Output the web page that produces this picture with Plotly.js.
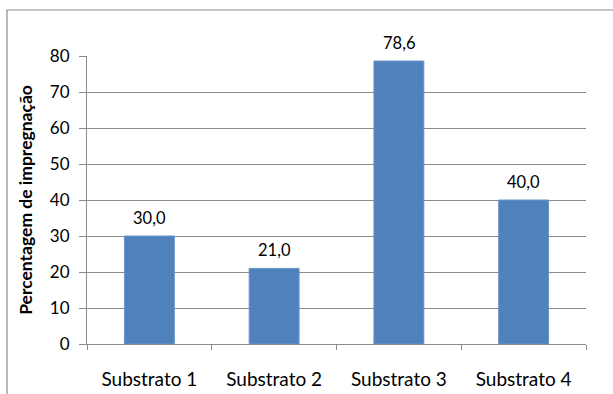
<!DOCTYPE html>
<html>
<head>
<meta charset="utf-8">
<script src="https://cdn.plot.ly/plotly-3.0.1.min.js"></script>
<style>
  html, body { margin: 0; padding: 0; background: #fff; }
  #chart { width: 613px; height: 394px; }
</style>
</head>
<body>
<div id="chart"></div>
<script>
// Impregnation percentage per substrate
const categories = ['Substrato 1', 'Substrato 2', 'Substrato 3', 'Substrato 4'];
const impregnation = [30.0, 21.0, 78.6, 40.0];
const yTicks = [0, 10, 20, 30, 40, 50, 60, 70, 80];

const fontFamily = 'Lato, "Open Sans", sans-serif';
const gridGray = '#8a8a8a';

const trace = {
  type: 'bar',
  x: categories,
  y: impregnation,
  marker: { color: '#4f81bd', line: { color: '#6a94c8', width: 1 } },
  hoverinfo: 'skip'
};

// value labels above each bar, with a decimal comma
const valueLabels = categories.map((c, i) => ({
  x: c,
  y: impregnation[i],
  xref: 'x',
  yref: 'y',
  text: impregnation[i].toFixed(1).replace('.', ','),
  showarrow: false,
  yanchor: 'bottom',
  yshift: 6,
  font: { family: fontFamily, size: 16.5, color: '#000' }
}));

const layout = {
  width: 613,
  height: 394,
  margin: { l: 87, r: 27, t: 56, b: 50 },
  paper_bgcolor: '#fff',
  plot_bgcolor: '#fff',
  showlegend: false,
  bargap: 0.6,
  font: { family: fontFamily, size: 16, color: '#000' },
  xaxis: {
    type: 'category',
    showgrid: false,
    showline: true,
    linecolor: gridGray,
    linewidth: 1,
    ticks: 'outside',
    tickson: 'boundaries',
    ticklen: 5,
    tickcolor: gridGray,
    ticklabelstandoff: 18,
    tickfont: { family: fontFamily, size: 19, color: '#000' },
    fixedrange: true
  },
  yaxis: {
    range: [0, 80],
    tickvals: yTicks,
    ticktext: yTicks.map(String),
    showgrid: true,
    gridcolor: gridGray,
    gridwidth: 1,
    zeroline: false,
    showline: true,
    linecolor: gridGray,
    linewidth: 1,
    ticks: 'outside',
    ticklen: 7,
    tickcolor: gridGray,
    ticklabelstandoff: 6,
    tickfont: { family: fontFamily, size: 17, color: '#000' },
    title: {
      text: '<b>Percentagem de impregnação</b>',
      font: { family: fontFamily, size: 17.5, color: '#000' },
      standoff: 12
    },
    automargin: false,
    fixedrange: true
  },
  annotations: valueLabels,
  shapes: [{
    type: 'rect',
    xref: 'paper',
    yref: 'paper',
    x0: -0.1603,
    x1: 1.2,
    y0: -0.3,
    y1: 1.1597,
    line: { color: '#8c8c8c', width: 1.2 },
    fillcolor: 'rgba(0,0,0,0)',
    layer: 'below'
  }]
};

Plotly.newPlot('chart', [trace], layout, { displayModeBar: false, staticPlot: true });
</script>
</body>
</html>
